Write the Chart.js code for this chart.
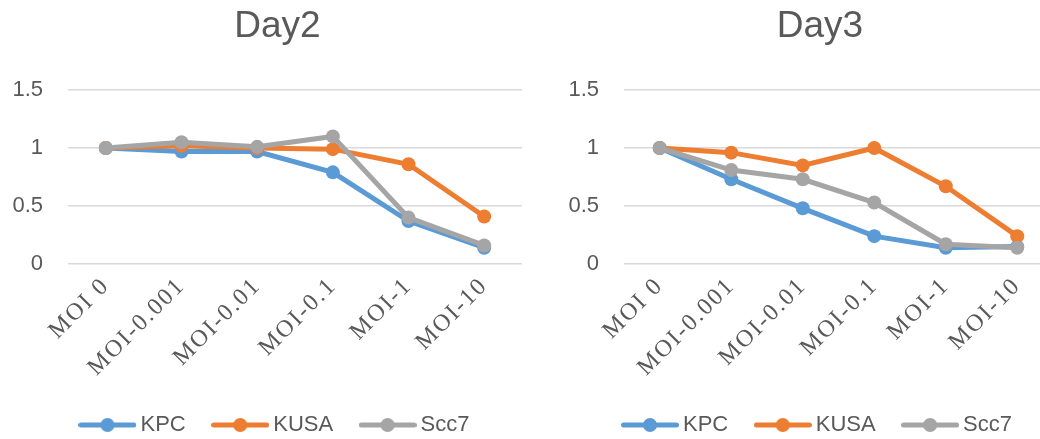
<!DOCTYPE html>
<html>
<head>
<meta charset="utf-8">
<script src="https://cdn.jsdelivr.net/npm/chart.js@4/dist/chart.umd.min.js"></script>
<style>
  html, body { margin: 0; padding: 0; background: #fff; overflow: hidden; }
  #stage { position: relative; width: 1040px; height: 439px; overflow: hidden; background: #fff; }
  .wrap { position: absolute; top: 0; height: 446px; }
  #w1 { left: 0; width: 555px; }
  #w2 { left: 556px; width: 528px; }
</style>
</head>
<body>
<div id="stage">
  <div class="wrap" id="w1"><canvas id="c1" width="555" height="446"></canvas></div>
  <div class="wrap" id="w2"><canvas id="c2" width="528" height="446"></canvas></div>
</div>
<script>
// ---- data ----
const categories = ['MOI 0', 'MOI-0.001', 'MOI-0.01', 'MOI-0.1', 'MOI-1', 'MOI-10'];
const seriesNames = ['KPC', 'KUSA', 'Scc7'];
const day2KPC  = [1, 0.97, 0.97, 0.79, 0.37, 0.14];
const day2KUSA = [1, 1.02, 1.00, 0.99, 0.86, 0.41];
const day2Scc7 = [1, 1.05, 1.01, 1.10, 0.40, 0.16];
const day3KPC  = [1, 0.73, 0.48, 0.24, 0.14, 0.15];
const day3KUSA = [1, 0.96, 0.85, 1.00, 0.67, 0.24];
const day3Scc7 = [1, 0.81, 0.73, 0.53, 0.17, 0.14];
const yTicks = [0, 0.5, 1, 1.5];

// ---- styles ----
const colors = ['#5B9BD5', '#ED7D31', '#A5A5A5'];
const textColor = '#595959';
const sans = "'Liberation Sans', Arial, sans-serif";
const serif = "'Liberation Serif', 'Times New Roman', serif";

function legendImage(color) {
  const c = document.createElement('canvas');
  c.width = 58; c.height = 16;
  const g = c.getContext('2d');
  g.strokeStyle = color; g.lineWidth = 5; g.lineCap = 'round';
  g.beginPath(); g.moveTo(2.5, 8); g.lineTo(55.5, 8); g.stroke();
  g.fillStyle = color;
  g.beginPath(); g.arc(29, 8, 7, 0, Math.PI * 2); g.fill();
  return c;
}
const legendImgs = colors.map(legendImage);

function makeChart(canvasId, title, seriesList, rightGap) {
  const datasets = seriesList.map((vals, i) => ({
    label: seriesNames[i],
    data: vals,
    borderColor: colors[i],
    backgroundColor: colors[i],
    borderWidth: 5,
    pointRadius: 7,
    pointHoverRadius: 7,
    pointBorderWidth: 0,
    pointBackgroundColor: colors[i],
    tension: 0,
    order: 3 - i
  }));
  const chart = new Chart(document.getElementById(canvasId), {
    type: 'line',
    data: { labels: categories, datasets },
    options: {
      responsive: false,
      animation: false,
      devicePixelRatio: 1,
      layout: { padding: 0 },
      plugins: {
        tooltip: { enabled: false },
        title: {
          display: true,
          text: title,
          color: textColor,
          font: { family: sans, size: 37, weight: 'normal', lineHeight: 1.2 },
          padding: { top: 5, bottom: 40.6 }
        },
        legend: {
          display: true,
          position: 'bottom',
          labels: {
            usePointStyle: true,
            pointStyleWidth: 44,
            padding: 32.5,
            color: textColor,
            font: { family: sans, size: 22 },
            generateLabels: (ch) => ch.data.datasets.map((ds, i) => ({
              text: ds.label,
              pointStyle: legendImgs[i],
              fillStyle: colors[i],
              strokeStyle: colors[i],
              lineWidth: 0,
              fontColor: textColor,
              hidden: false,
              datasetIndex: i
            }))
          }
        }
      },
      scales: {
        x: {
          type: 'category',
          offset: true,
          grid: { display: false, drawTicks: false },
          border: { display: false },
          ticks: {
            color: textColor,
            font: { family: serif, size: 24 },
            minRotation: 45,
            maxRotation: 45,
            padding: 8,
            autoSkip: false
          },
          afterFit: (s) => { s.height = 117.5; }
        },
        y: {
          min: 0,
          max: 1.5,
          afterBuildTicks: (s) => { s.ticks = yTicks.map(v => ({ value: v })); },
          grid: { color: '#D9D9D9', lineWidth: 1.5, drawTicks: false },
          border: { display: false },
          ticks: {
            color: textColor,
            font: { family: sans, size: 22 },
            padding: 25,
            callback: (v) => String(v)
          },
          afterFit: (s) => { s.width = 68; }
        },
        yRight: {
          position: 'right',
          display: true,
          grid: { display: false, drawTicks: false },
          border: { display: false },
          ticks: { display: false },
          afterFit: (s) => { s.width = rightGap; }
        }
      }
    }
  });
  // letter-spaced category labels, as in the original
  const xs = chart.scales.x;
  const orig = xs.drawLabels.bind(xs);
  xs.drawLabels = function (area) {
    const ctx = this.ctx;
    ctx.save();
    ctx.letterSpacing = '2px';
    orig(area);
    ctx.restore();
  };
  chart.draw();
  return chart;
}

makeChart('c1', 'Day2', [day2KPC, day2KUSA, day2Scc7], 33);
makeChart('c2', 'Day3', [day3KPC, day3KUSA, day3Scc7], 31);
</script>
</body>
</html>
